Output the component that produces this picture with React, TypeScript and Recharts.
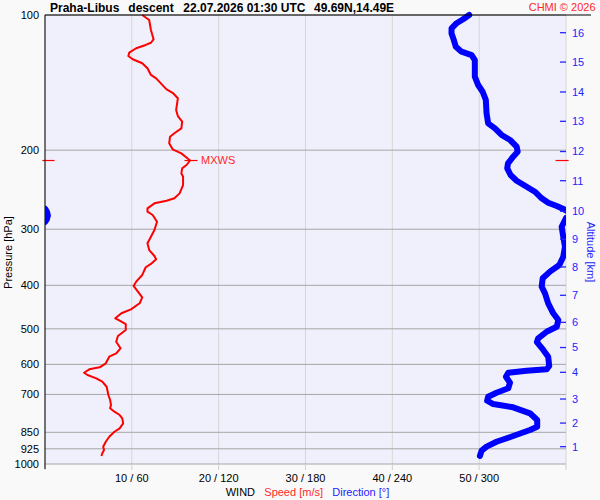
import {
  CartesianGrid,
  ReferenceLine,
  Scatter,
  ScatterChart,
  XAxis,
  YAxis,
} from "recharts";

const FONT = "'Liberation Sans', Arial, sans-serif";
const RED = "#ff0000";
const RED_TXT = "#ff2828";
const BLUE = "#0000ff";
const BLUE_TXT = "#2424ff";

// pressure axis (hPa), log scale, top = 100
const P_TICKS = [100, 200, 300, 400, 500, 600, 700, 850, 925, 1000];

// wind speed axis (m/s); direction axis shares the width (0..360 deg)
const SPEED_TICKS = [0, 10, 20, 30, 40, 50, 60];
const SPEED_TICK_LABELS = ["", "10 / 60", "20 / 120", "30 / 180", "40 / 240", "50 / 300", ""];

// altitude ticks on the right, placed at the pressure of each km level
const ALT_KM = [1, 2, 3, 4, 5, 6, 7, 8, 9, 10, 11, 12, 13, 14, 15, 16];
const ALT_P = [
  915.0, 810.6, 716.6, 624.9, 550.3, 483.6, 421.0, 364.0, 315.9, 273.6, 233.9, 201.4,
  172.5, 148.4, 127.3, 109.5,
];

const SPEED = [
  { p: 100, s: 11.2 }, { p: 102.6, s: 12.0 }, { p: 108.0, s: 12.2 }, { p: 113.3, s: 12.5 },
  { p: 115.3, s: 12.2 }, { p: 116.6, s: 11.6 }, { p: 118.6, s: 10.5 }, { p: 121.3, s: 9.7 },
  { p: 123.4, s: 9.6 }, { p: 125.5, s: 10.1 }, { p: 128.1, s: 11.2 }, { p: 131.4, s: 11.8 },
  { p: 136.0, s: 12.2 }, { p: 138.4, s: 12.8 }, { p: 146.4, s: 14.0 }, { p: 149.0, s: 14.7 },
  { p: 153.3, s: 15.3 }, { p: 162.8, s: 15.1 }, { p: 167.9, s: 15.3 }, { p: 172.8, s: 15.8 },
  { p: 178.8, s: 15.7 }, { p: 183.4, s: 14.9 }, { p: 186.7, s: 14.4 }, { p: 193.1, s: 14.3 },
  { p: 199.1, s: 14.7 }, { p: 203.3, s: 15.7 }, { p: 208.5, s: 16.4 }, { p: 210.9, s: 16.7 },
  { p: 215.8, s: 16.3 }, { p: 219.5, s: 15.8 }, { p: 225.2, s: 15.7 }, { p: 229.2, s: 15.9 },
  { p: 239.2, s: 15.9 }, { p: 249.6, s: 15.5 }, { p: 256.0, s: 14.9 }, { p: 259.2, s: 14.0 },
  { p: 262.7, s: 12.6 }, { p: 269.5, s: 11.8 }, { p: 274.2, s: 11.8 }, { p: 278.9, s: 12.4 },
  { p: 288.7, s: 12.9 }, { p: 301.2, s: 12.6 }, { p: 311.7, s: 12.2 }, { p: 322.5, s: 11.8 },
  { p: 333.8, s: 12.0 }, { p: 344.2, s: 12.6 }, { p: 350.0, s: 12.8 }, { p: 358.5, s: 12.2 },
  { p: 364.6, s: 11.6 }, { p: 379.3, s: 11.2 }, { p: 392.6, s: 10.5 }, { p: 401.3, s: 10.2 },
  { p: 413.3, s: 10.7 }, { p: 425.3, s: 11.2 }, { p: 438.6, s: 10.9 }, { p: 452.4, s: 9.9 },
  { p: 461.7, s: 8.8 }, { p: 473.7, s: 8.1 }, { p: 479.6, s: 8.6 }, { p: 487.8, s: 9.3 },
  { p: 503.1, s: 9.3 }, { p: 518.8, s: 8.4 }, { p: 534.2, s: 8.2 }, { p: 552.5, s: 8.7 },
  { p: 566.9, s: 8.2 }, { p: 576.8, s: 7.4 }, { p: 596.7, s: 7.0 }, { p: 609.1, s: 6.3 },
  { p: 615.3, s: 5.1 }, { p: 626.2, s: 4.5 }, { p: 633.6, s: 4.9 }, { p: 644.4, s: 5.9 },
  { p: 655.7, s: 6.6 }, { p: 672.8, s: 7.1 }, { p: 702.1, s: 7.3 }, { p: 720.3, s: 7.5 },
  { p: 739.0, s: 7.6 }, { p: 751.6, s: 7.5 }, { p: 764.8, s: 8.0 }, { p: 777.9, s: 8.6 },
  { p: 791.1, s: 8.9 }, { p: 811.8, s: 9.0 }, { p: 832.9, s: 8.6 }, { p: 847.6, s: 8.0 },
  { p: 869.5, s: 7.4 }, { p: 892.1, s: 7.0 }, { p: 915.0, s: 6.7 }, { p: 930.6, s: 6.8 },
  { p: 946.5, s: 6.6 }, { p: 959.8, s: 6.5 },
];

// direction above the 360 -> 0 wrap
const DIR_UPPER = [
  { p: 100, d: 293.1 }, { p: 102.2, d: 288.9 }, { p: 104.3, d: 284.4 }, { p: 107.1, d: 280.9 },
  { p: 109.9, d: 280.9 }, { p: 113.7, d: 282.5 }, { p: 117.7, d: 283.9 }, { p: 120.7, d: 287.8 },
  { p: 122.8, d: 294.8 }, { p: 126.0, d: 297.0 }, { p: 137.2, d: 297.0 }, { p: 143.2, d: 299.3 },
  { p: 148.2, d: 302.4 }, { p: 154.6, d: 304.6 }, { p: 165.5, d: 305.1 }, { p: 174.3, d: 306.2 },
  { p: 178.8, d: 310.9 }, { p: 185.0, d: 315.5 }, { p: 189.8, d: 321.3 }, { p: 196.5, d: 325.9 },
  { p: 201.6, d: 326.6 }, { p: 206.8, d: 323.5 }, { p: 214.0, d: 319.9 }, { p: 219.5, d: 319.4 },
  { p: 227.2, d: 321.7 }, { p: 233.9, d: 325.9 }, { p: 241.3, d: 332.8 }, { p: 247.5, d: 338.5 },
  { p: 256.0, d: 343.2 }, { p: 261.9, d: 347.7 }, { p: 266.4, d: 353.6 }, { p: 270.9, d: 358.6 },
  { p: 272.6, d: 360 },
];

// short stretch just past north
const DIR_WRAP = [
  { p: 269.8, d: 0 }, { p: 274.0, d: 1.3 }, { p: 279.5, d: 2.0 }, { p: 285.0, d: 1.3 },
  { p: 289.0, d: 0 },
];

const DIR_LOWER = [
  { p: 283.2, d: 360 }, { p: 296.2, d: 357.0 }, { p: 311.7, d: 358.1 }, { p: 328.2, d: 359.3 },
  { p: 345.4, d: 358.1 }, { p: 360.3, d: 355.4 }, { p: 372.9, d: 348.9 }, { p: 385.8, d: 343.9 },
  { p: 402.7, d: 343.2 }, { p: 416.7, d: 345.5 }, { p: 438.6, d: 347.7 }, { p: 461.7, d: 351.2 },
  { p: 477.9, d: 354.7 }, { p: 494.7, d: 353.6 }, { p: 507.5, d: 346.6 }, { p: 525.0, d: 340.8 },
  { p: 535.0, d: 339.9 }, { p: 557.3, d: 344.3 }, { p: 576.8, d: 347.7 }, { p: 605.0, d: 348.4 },
  { p: 615.3, d: 346.6 }, { p: 619.8, d: 332.8 }, { p: 626.2, d: 320.1 }, { p: 639.2, d: 318.5 },
  { p: 659.1, d: 321.3 }, { p: 678.3, d: 320.1 }, { p: 693.8, d: 312.0 }, { p: 708.2, d: 306.2 },
  { p: 722.8, d: 305.5 }, { p: 735.2, d: 309.7 }, { p: 747.7, d: 323.5 }, { p: 771.1, d: 335.1 },
  { p: 798.1, d: 340.1 }, { p: 826.1, d: 340.1 }, { p: 840.2, d: 335.1 }, { p: 866.4, d: 323.5 },
  { p: 892.1, d: 312.0 }, { p: 915.0, d: 305.1 }, { p: 933.9, d: 301.7 }, { p: 959.8, d: 300.5 },
];

const MXWS = [{ p: 210.9, s: 16.7 }];

const dirLine = {
  stroke: BLUE,
  strokeWidth: 6,
  strokeLinecap: "round",
  strokeLinejoin: "round",
} as const;

function AltTick(props: any) {
  const { x, y, index } = props;
  return (
    <g>
      <line x1={x - 12} x2={x - 6} y1={y} y2={y} stroke={BLUE_TXT} strokeWidth={1.3} />
      <text x={x} y={y} dy="0.36em" fill={BLUE_TXT} fontSize={11} fontFamily={FONT}>
        {ALT_KM[index]}
      </text>
    </g>
  );
}

function MxwsMark(props: any) {
  const { cx, cy } = props;
  return (
    <g>
      <line x1={cx - 5.5} x2={cx + 7.5} y1={cy} y2={cy} stroke={RED} strokeWidth={1.2} />
      <text x={cx + 11} y={cy} dy="0.36em" fill={RED_TXT} fontSize={11} fontFamily={FONT}>
        MXWS
      </text>
    </g>
  );
}

const noDot = () => <g />;

export default function App() {
  const mx = MXWS[0].p;
  return (
    <div
      style={{
        position: "absolute",
        left: 0,
        top: 0,
        width: 600,
        height: 500,
        background: "#f9f9f9",
        fontFamily: FONT,
      }}
    >
      <ScatterChart width={600} height={500} margin={{ top: 15, right: 0, bottom: 14, left: 0 }}>
        <CartesianGrid
          xAxisId="spd"
          yAxisId="p"
          horizontal={false}
          stroke="#d6d6d6"
          fill="#f0f0fc"
          fillOpacity={1}
        />
        <CartesianGrid xAxisId="spd" yAxisId="p" vertical={false} stroke="#a6a6a6" />
        <XAxis
          xAxisId="spd"
          type="number"
          dataKey="s"
          domain={[0, 60]}
          ticks={SPEED_TICKS}
          interval={0}
          tickFormatter={(_v: number, i: number) => SPEED_TICK_LABELS[i]}
          axisLine={false}
          tickLine={{ stroke: "#d0d0d0" }}
          tickSize={6}
          tickMargin={4}
          height={22}
          tick={{ fill: "#000", fontSize: 11, fontFamily: FONT }}
        />
        <XAxis
          xAxisId="dir"
          orientation="top"
          type="number"
          dataKey="d"
          domain={[0, 360]}
          allowDataOverflow
          height={0}
          hide
        />
        <YAxis
          yAxisId="p"
          type="number"
          dataKey="p"
          scale="log"
          domain={[100, 1000]}
          reversed
          ticks={P_TICKS}
          interval={0}
          width={45}
          axisLine={{ stroke: "#000" }}
          tickLine={false}
          tickSize={0}
          tickMargin={6}
          tick={{ fill: "#000", fontSize: 11, fontFamily: FONT }}
        />
        <YAxis
          yAxisId="alt"
          orientation="right"
          type="number"
          dataKey="p"
          scale="log"
          domain={[100, 1000]}
          reversed
          ticks={ALT_P}
          interval={0}
          width={34}
          axisLine={false}
          tickLine={false}
          tickSize={0}
          tickMargin={6}
          tick={AltTick}
        />
        <ReferenceLine
          xAxisId="spd"
          yAxisId="p"
          ifOverflow="visible"
          segment={[{ x: -0.3, y: mx }, { x: 1.1, y: mx }]}
          stroke={RED}
          strokeWidth={1.2}
        />
        <ReferenceLine
          xAxisId="spd"
          yAxisId="p"
          ifOverflow="visible"
          segment={[{ x: 58.8, y: mx }, { x: 60.3, y: mx }]}
          stroke={RED}
          strokeWidth={1.2}
        />
        <Scatter
          xAxisId="dir"
          yAxisId="p"
          data={DIR_UPPER}
          line={dirLine}
          shape={noDot}
          isAnimationActive={false}
        />
        <Scatter
          xAxisId="dir"
          yAxisId="p"
          data={DIR_WRAP}
          line={dirLine}
          shape={noDot}
          isAnimationActive={false}
        />
        <Scatter
          xAxisId="dir"
          yAxisId="p"
          data={DIR_LOWER}
          line={dirLine}
          shape={noDot}
          isAnimationActive={false}
        />
        <Scatter
          xAxisId="spd"
          yAxisId="p"
          data={SPEED}
          line={{ stroke: RED, strokeWidth: 2, strokeLinejoin: "round" }}
          shape={noDot}
          isAnimationActive={false}
        />
        <Scatter
          xAxisId="spd"
          yAxisId="alt"
          data={MXWS}
          shape={MxwsMark}
          isAnimationActive={false}
        />
      </ScatterChart>
      <svg
        width={600}
        height={500}
        style={{ position: "absolute", left: 0, top: 0, pointerEvents: "none" }}
      >
        <line x1={45} x2={591} y1={15} y2={15} stroke="#000" strokeWidth={1} />
        <line x1={45} x2={45} y1={464} y2={469} stroke="#000" strokeWidth={1} />
        <g fontFamily={FONT} fontSize={12} fontWeight="bold" fill="#000">
          <text x={50} y={11.5}>Praha-Libus</text>
          <text x={128.3} y={11.5}>descent</text>
          <text x={183.3} y={11.5}>22.07.2026 01:30 UTC</text>
          <text x={314} y={11.5}>49.69N,14.49E</text>
        </g>
        <text x={595.5} y={10.5} textAnchor="end" fill={RED_TXT} fontSize={11} fontFamily={FONT}>
          CHMI © 2026
        </text>
        <text
          transform="translate(11.5 252.5) rotate(-90)"
          textAnchor="middle"
          fill="#000"
          fontSize={11}
          fontFamily={FONT}
        >
          Pressure [hPa]
        </text>
        <text
          transform="translate(586.5 252) rotate(90)"
          textAnchor="middle"
          fill={BLUE_TXT}
          fontSize={11}
          fontFamily={FONT}
        >
          Altitude [km]
        </text>
        <g fontFamily={FONT} fontSize={11}>
          <text x={225.7} y={495.5} fill="#000">WIND</text>
          <text x={264.3} y={495.5} fill={RED_TXT}>Speed [m/s]</text>
          <text x={332.3} y={495.5} fill={BLUE_TXT}>Direction [°]</text>
        </g>
      </svg>
    </div>
  );
}
